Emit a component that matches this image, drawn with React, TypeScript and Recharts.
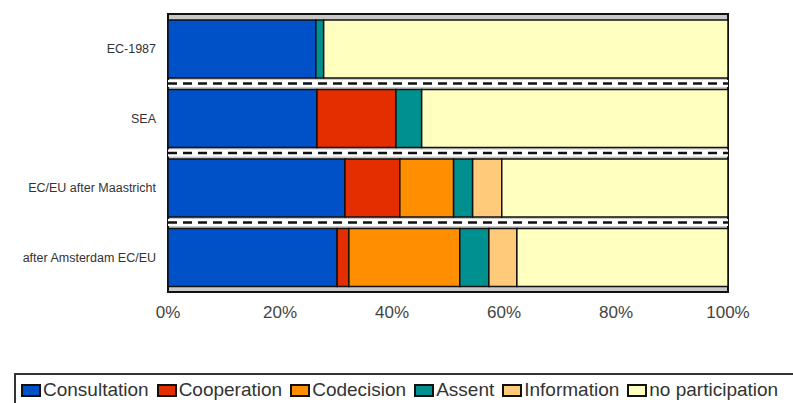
import { Bar, BarChart, ReferenceArea, ReferenceLine, XAxis, YAxis } from 'recharts';

const categories = ['EC-1987', 'SEA', 'EC/EU after Maastricht', 'after Amsterdam EC/EU'];
const consultation = [26.4, 26.6, 31.6, 30.2];
const cooperation = [0, 14.1, 9.8, 2.1];
const codecision = [0, 0, 9.6, 19.8];
const assent = [1.4, 4.6, 3.4, 5.2];
const information = [0, 0, 5.2, 5.0];
const noParticipation = [72.2, 54.7, 40.4, 37.7];
const xTicks = [0, 20, 40, 60, 80, 100];

const SERIES = [
  { key: 'consultation', name: 'Consultation', color: '#0050c8', values: consultation },
  { key: 'cooperation', name: 'Cooperation', color: '#e42e00', values: cooperation },
  { key: 'codecision', name: 'Codecision', color: '#ff8f00', values: codecision },
  { key: 'assent', name: 'Assent', color: '#009090', values: assent },
  { key: 'information', name: 'Information', color: '#ffca7a', values: information },
  { key: 'noParticipation', name: 'no participation', color: '#ffffc0', values: noParticipation },
];

// rows sit at 0.5, 1.5, ... on a numeric axis so the dashed separators can go at the integers
const data = categories.map((name, i) => {
  const row: Record<string, number | string> = { name, pos: i + 0.5 };
  SERIES.forEach((s) => (row[s.key] = s.values[i]));
  return row;
});
const separators = categories.slice(1).map((_, i) => i + 1);

const FONT = '"Liberation Sans", Arial, sans-serif';

export default function App() {
  return (
    <div style={{ position: 'absolute', left: 0, top: 0, width: 793, height: 403, background: '#fff', fontFamily: FONT }}>
      <BarChart
        width={793}
        height={403}
        data={data}
        layout="vertical"
        margin={{ top: 14, right: 65, bottom: 81, left: 0 }}
      >
        <XAxis
          type="number"
          domain={[0, 100]}
          ticks={xTicks}
          tickFormatter={(v) => `${v}%`}
          axisLine={false}
          tickLine={false}
          tickMargin={8}
          tick={{ fontSize: 17, fill: '#444', fontFamily: FONT }}
        />
        <YAxis
          type="number"
          dataKey="pos"
          domain={[0, categories.length]}
          ticks={data.map((d) => d.pos as number)}
          tickFormatter={(v) => categories[Math.floor(v)]}
          width={168}
          axisLine={false}
          tickLine={false}
          tickMargin={6}
          tick={{ fontSize: 12.5, fill: '#333', fontFamily: FONT }}
        />
        <ReferenceArea x1={0} x2={100} y1={0} y2={categories.length} fill="#c8c8c8" fillOpacity={1} stroke="#111" strokeWidth={2} />
        {separators.map((s) => (
          <ReferenceArea key={`band${s}`} x1={0} x2={100} y1={s - 0.05} y2={s + 0.05} fill="#fff" fillOpacity={1} />
        ))}
        {separators.map((s) => (
          <ReferenceLine key={`sep${s}`} y={s} stroke="#111" strokeWidth={2.5} strokeDasharray="9 6" />
        ))}
        {SERIES.map((s) => (
          <Bar
            key={s.key}
            dataKey={s.key}
            name={s.name}
            stackId="a"
            fill={s.color}
            stroke="#111"
            strokeWidth={1.5}
            barSize={58}
            isAnimationActive={false}
          />
        ))}
      </BarChart>
      <div
        style={{
          position: 'absolute',
          left: 14,
          top: 373,
          width: 800,
          height: 34,
          border: '2px solid #333',
          borderRight: 'none',
          display: 'flex',
          alignItems: 'center',
          paddingLeft: 5,
          boxSizing: 'border-box',
          fontSize: 19,
          color: '#333',
          whiteSpace: 'nowrap',
        }}
      >
        {SERIES.map((s) => (
          <span key={s.key} style={{ display: 'inline-flex', alignItems: 'center', marginRight: 8 }}>
            <span
              style={{
                display: 'inline-block',
                width: 16,
                height: 9,
                background: s.color,
                border: '2px solid #111',
                marginRight: 2,
              }}
            />
            {s.name}
          </span>
        ))}
      </div>
    </div>
  );
}
